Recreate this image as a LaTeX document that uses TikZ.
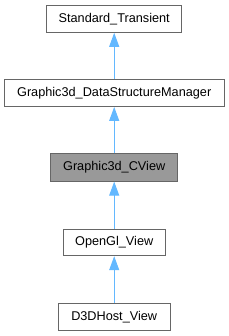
\documentclass[tikz,border=0pt]{standalone}
\usepackage{fontspec}
\setmainfont{Liberation Sans}
\usetikzlibrary{arrows.meta}
\definecolor{edgeblue}{HTML}{63B8FF}
\definecolor{boxgrey}{HTML}{666666}
\tikzset{
  cls/.style={draw=boxgrey, line width=1pt, fill=white, minimum height=27.3pt, inner sep=0pt, font=\fontsize{12.7}{15}\selectfont, text=black},
  inh/.style={draw=edgeblue, line width=1pt, -{Triangle[length=14pt,width=10pt,fill=edgeblue]}}
}
\begin{document}
\begin{tikzpicture}[x=1pt,y=-1pt]
\useasboundingbox (0,0) rectangle (229,336);
\node[cls, minimum width=135pt] (st) at (114.2,18.7) {Standard\_Transient};
\node[cls, minimum width=220pt] (dsm) at (114.2,92.8) {Graphic3d\_DataStructureManager};
\node[cls, minimum width=127pt, fill={rgb,255:red,153;green,153;blue,153}] (cv) at (114.2,167.5) {Graphic3d\_CView};
\node[cls, minimum width=102pt, minimum height=26.4pt] (gl) at (114.2,242.5) {OpenGl\_View};
\node[cls, minimum width=112.4pt, minimum height=26.7pt] (d3d) at (114.2,316.7) {D3DHost\_View};
\draw[inh] (dsm.north) -- (st.south);
\draw[inh] (cv.north) -- (dsm.south);
\draw[inh] (gl.north) -- (cv.south);
\draw[inh] (d3d.north) -- (gl.south);
\end{tikzpicture}
\end{document}
